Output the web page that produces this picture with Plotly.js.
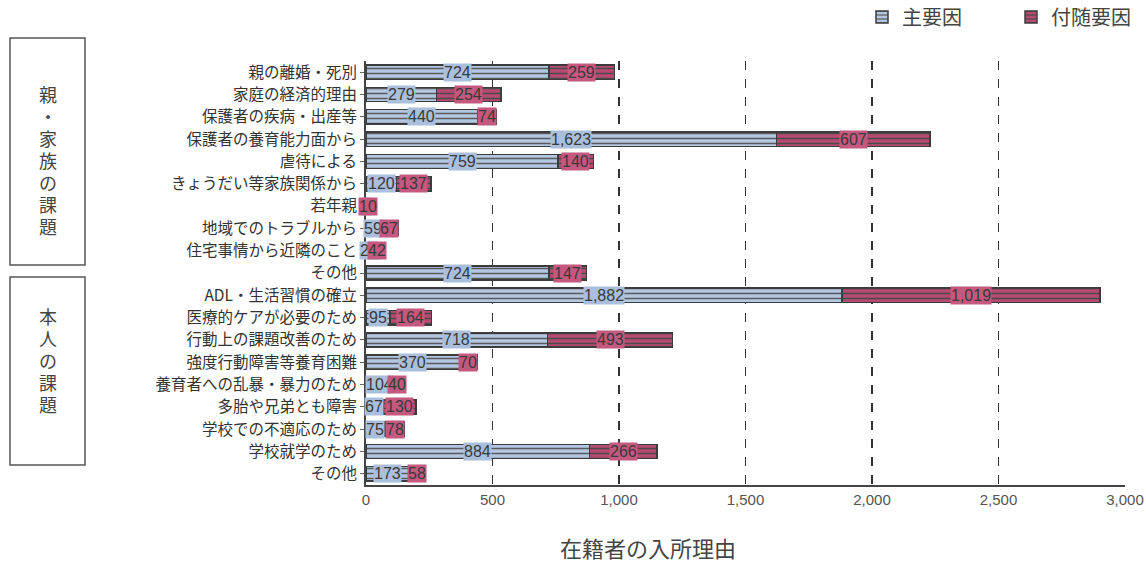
<!DOCTYPE html>
<html><head><meta charset="utf-8">
<script src="https://cdn.plot.ly/plotly-3.0.1.min.js"></script>
<style>html,body{margin:0;padding:0;background:#fff;}#chart{width:1146px;height:578px;}</style>
</head><body><div id="chart"></div>
<script>
const categories = ["親の離婚・死別","家庭の経済的理由","保護者の疾病・出産等","保護者の養育能力面から","虐待による","きょうだい等家族関係から","若年親","地域でのトラブルから","住宅事情から近隣のこと","その他","ADL・生活習慣の確立","医療的ケアが必要のため","行動上の課題改善のため","強度行動障害等養育困難","養育者への乱暴・暴力のため","多胎や兄弟とも障害","学校での不適応のため","学校就学のため","その他"];
const mainFactor = [724,279,440,1623,759,120,2,59,24,724,1882,95,718,370,104,67,75,884,173];
const subFactor  = [259,254,74,607,140,137,10,67,42,147,1019,164,493,70,40,130,78,266,58];
const seriesNames = ["主要因","付随要因"];
const groupNames = ["親・家族の課題","本人の課題"];
const xTicks = [0,500,1000,1500,2000,2500,3000];
const xTitle = "在籍者の入所理由";

const W=1146,H=578, L=366, R=21, T=61, B=93;
const pw=W-L-R, ph=H-T-B;
const px2x = p => (p-L)/pw;
const py2y = p => (H-B-p)/ph;

const idx = categories.map((_,i)=>i);
const fmt = v => v.toLocaleString('en-US');
const font = "Liberation Sans, Arial, sans-serif";
const jfont = "Noto Sans CJK JP, sans-serif";

const blue = "#b3c7e2", pink = "#b84a72";
const traces = [
  {type:'bar', orientation:'h', name:seriesNames[0], y:idx, x:mainFactor,
   marker:{color:blue, line:{color:'#3c3c3c', width:1.5},
     pattern:{shape:'-', fgcolor:'#5a5a5a', bgcolor:blue, size:5, solidity:0.3}}, hoverinfo:'x'},
  {type:'bar', orientation:'h', name:seriesNames[1], y:idx, x:subFactor,
   marker:{color:pink, line:{color:'#3c3c3c', width:1.5},
     pattern:{shape:'-', fgcolor:'#4a4a4a', bgcolor:pink, size:5, solidity:0.3}}, hoverinfo:'x'}
];

const ann = [];
idx.forEach(i=>{
  ann.push({x:mainFactor[i]/2, y:i, xref:'x', yref:'y', text:fmt(mainFactor[i]), showarrow:false,
    font:{family:font,size:16,color:'#3a3a3a'}, bgcolor:'#a9bfdc', borderpad:0});
  ann.push({x:mainFactor[i]+subFactor[i]/2, y:i, xref:'x', yref:'y', text:fmt(subFactor[i]), showarrow:false,
    font:{family:font,size:16,color:'#3a3a3a'}, bgcolor:'#c4587e', borderpad:0});
});
// group boxes and vertical labels
const boxes = [[10,85,38,265],[10,85,277,465]];
const textCenters = [160, 360];
const pitch = 22;
const shapes = [];
boxes.forEach((b,k)=>{
  shapes.push({type:'rect', xref:'paper', yref:'paper', x0:px2x(b[0]), x1:px2x(b[1]), y0:py2y(b[3]), y1:py2y(b[2]),
    line:{color:'#555', width:1.5}, fillcolor:'rgba(0,0,0,0)'});
  const chars = groupNames[k].split('');
  chars.forEach((c,j)=>{
    const py = textCenters[k] + (j-(chars.length-1)/2)*pitch;
    ann.push({xref:'paper', yref:'paper', x:px2x((b[0]+b[1])/2), y:py2y(py),
      xanchor:'center', yanchor:'middle', width:24, height:22, valign:'middle', align:'center',
      text:c, showarrow:false, font:{family:jfont,size:18,color:'#444'}});
  });
});
ann.push({xref:'paper', yref:'paper', x:px2x(648), y:py2y(565), text:xTitle, showarrow:false,
  font:{family:jfont,size:22,color:'#444'}});

const layout = {
  width:W, height:H, margin:{l:L,r:R,t:T,b:B,autoexpand:false}, paper_bgcolor:'#fff', plot_bgcolor:'#fff',
  barmode:'stack', bargap:0.36, showlegend:true,
  legend:{orientation:'h', x:px2x(862), xanchor:'left', y:py2y(17), yanchor:'middle',
    font:{family:jfont,size:20,color:'#444'}, traceorder:'normal', entrywidth:104, itemwidth:30},
  xaxis:{range:[0,3000], tickvals:xTicks, ticktext:xTicks.map(fmt), showgrid:true, griddash:'dash',
    gridcolor:'#333', gridwidth:1.5, zeroline:false, showline:true, linecolor:'#444', linewidth:2,
    tickfont:{family:font,size:15,color:'#555'}, ticks:''},
  yaxis:{range:[18.5,-0.5], tickvals:idx, ticktext:categories, showgrid:false, zeroline:false,
    showline:true, linecolor:'#444', linewidth:2, ticks:'outside', ticklen:4, tickcolor:'#666',
    tickfont:{family:jfont,size:15.5,color:'#333'}},
  annotations:ann, shapes:shapes
};
Plotly.newPlot('chart', traces, layout, {displayModeBar:false, staticPlot:true});
</script></body></html>
